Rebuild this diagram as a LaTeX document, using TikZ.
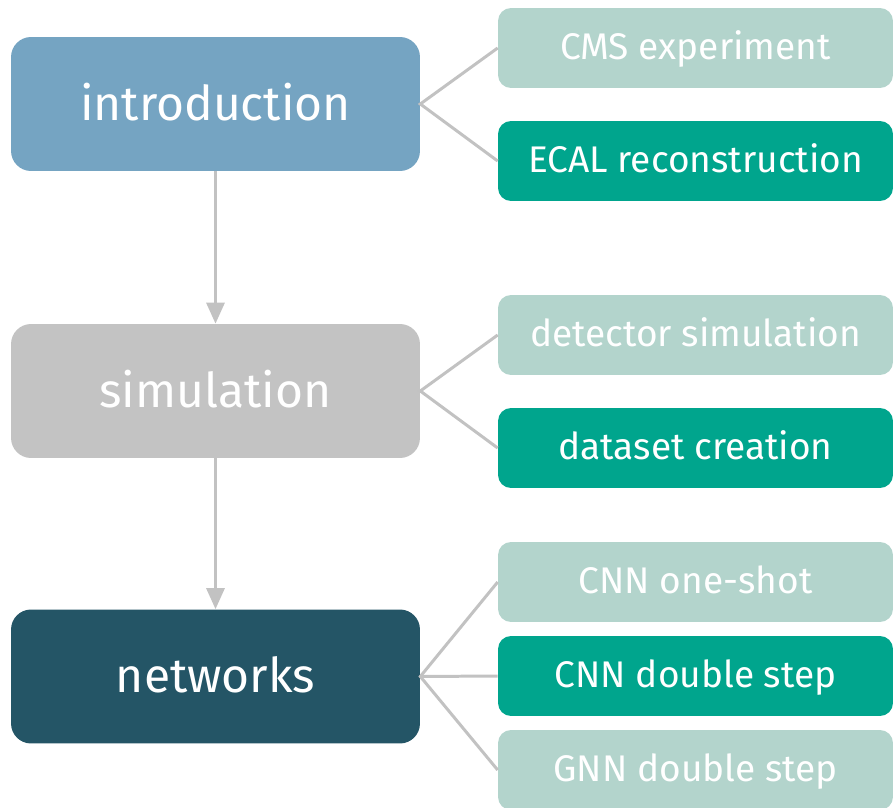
\documentclass[tikz,border=0pt]{standalone}
\usepackage{fontspec}
\setmainfont{Fira Sans}
\usetikzlibrary{arrows.meta}

\definecolor{introblue}{HTML}{75A4C2}
\definecolor{simgray}{HTML}{C3C3C3}
\definecolor{netpetrol}{HTML}{245566}
\definecolor{paleteal}{HTML}{B3D4CC}
\definecolor{deepteal}{HTML}{00A58D}
\definecolor{linkgray}{HTML}{C2C2C2}

\tikzset{
	mainbox/.style = {rounded corners=0.4cm, minimum width=8.18cm, minimum height=2.68cm,
		text=white, font=\fontsize{27.3}{33}\selectfont, inner sep=0pt,
		text height=18.6pt, text depth=0pt},
	subbox/.style = {rounded corners=0.26cm, minimum width=7.9cm, minimum height=1.6cm,
		text=white, font=\fontsize{21.1}{25}\selectfont, inner sep=0pt,
		text height=13.1pt, text depth=0pt},
	branch/.style = {draw=linkgray, line width=1.7pt},
	flow/.style = {draw=linkgray, line width=1.7pt, -{Triangle[width=0.36cm,length=0.42cm]}}
}

\begin{document}
\begin{tikzpicture}[x=0.02cm, y=-0.02cm]
	\useasboundingbox (0,0) rectangle (893,808);

	\node[mainbox, fill=introblue] (intro) at (215.5,104) {introduction};
	\node[mainbox, fill=simgray] (sim) at (215.5,391) {simulation};
	\node[mainbox, fill=netpetrol] (nets) at (215.5,676.5) {networks};

	\node[subbox, fill=paleteal] (cms) at (695.5,48) {CMS experiment};
	\node[subbox, fill=deepteal] (ecal) at (695.5,161) {ECAL reconstruction};

	\node[subbox, fill=paleteal] (detsim) at (695.5,335) {detector simulation};
	\node[subbox, fill=deepteal] (dataset) at (695.5,448) {dataset creation};

	\node[subbox, fill=paleteal] (cnnone) at (695.5,582) {CNN one-shot};
	\node[subbox, fill=deepteal] (cnndouble) at (695.5,676) {CNN double step};
	\node[subbox, fill=paleteal] (gnn) at (695.5,770) {GNN double step};

	\draw[flow] (intro) -- (sim);
	\draw[flow] (sim) -- (nets);

	\draw[branch] (cms.west) -- (intro.east) -- (ecal.west);
	\draw[branch] (detsim.west) -- (sim.east) -- (dataset.west);
	\draw[branch] (cnnone.west) -- (nets.east) -- (gnn.west);
	\draw[branch] (nets.east) -- (cnndouble.west);
\end{tikzpicture}
\end{document}
